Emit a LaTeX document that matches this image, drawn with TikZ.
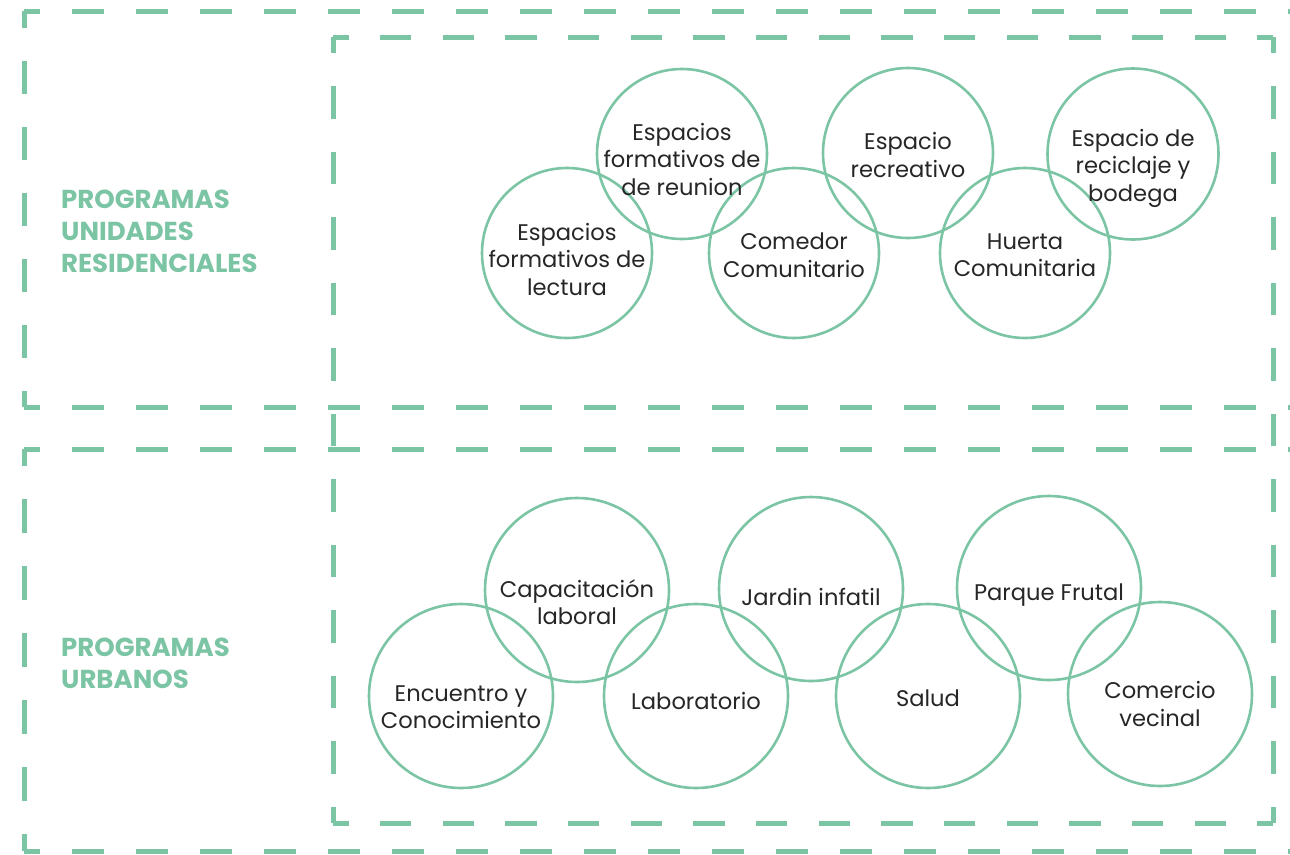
\documentclass[tikz,border=0pt]{standalone}
\usepackage{fontspec}
\setmainfont{Poppins}
\definecolor{gr}{HTML}{7BC4A4}
\definecolor{tx}{HTML}{262626}
\tikzset{
  frame/.style={draw=gr, line width=5pt, line cap=butt},
  ring/.style={circle, draw=gr, line width=2.6pt, inner sep=0pt},
  lbl/.style={text=tx, align=center, font=\fontsize{22.6}{27.5}\selectfont, inner sep=0pt},
  head/.style={text=gr, align=left, anchor=west, font=\fontsize{26}{32}\selectfont\bfseries, inner sep=0pt},
}
\begin{document}
\begin{tikzpicture}[x=1pt,y=-1pt]
\useasboundingbox (0,0) rectangle (1290,854);
\begin{scope}
\clip (0,0) rectangle (1290,854);
% outer top frame
\coordinate (ot1) at (24,11);
\coordinate (ot2) at (24,407);
\coordinate (otm) at (24,209);
\draw[frame, dash pattern=on 32 off 32, dash phase=16] (ot1) -- (1340,11);
\draw[frame, dash pattern=on 32 off 32, dash phase=16] (ot2) -- (1340,407);
\draw[frame, dash pattern=on 33 off 33, dash phase=16.5] (ot1) -- (otm);
\draw[frame, dash pattern=on 33 off 33, dash phase=16.5] (ot2) -- (otm);
% outer bottom frame
\coordinate (ob1) at (24,449);
\coordinate (ob2) at (24,851);
\coordinate (obm) at (24,650);
\draw[frame, dash pattern=on 32 off 32, dash phase=16] (ob1) -- (1340,449);
\draw[frame, dash pattern=on 32 off 32, dash phase=16] (ob2) -- (1340,851);
\draw[frame, dash pattern=on 33.5 off 33.5, dash phase=16.75] (ob1) -- (obm);
\draw[frame, dash pattern=on 33.5 off 33.5, dash phase=16.75] (ob2) -- (obm);
% inner frame
\coordinate (i1) at (333,37);
\coordinate (i2) at (1273,37);
\coordinate (i3) at (1273,823);
\coordinate (i4) at (333,823);
\coordinate (itm) at (803,37);
\coordinate (ibm) at (803,823);
\coordinate (ilm) at (333,430);
\coordinate (irm) at (1273,430);
\tikzset{hd/.style={frame, dash pattern=on 31.33 off 31.33, dash phase=15.67},
         vd/.style={frame, dash pattern=on 32.75 off 32.75, dash phase=16.375}}
\draw[hd] (i1) -- (itm); \draw[hd] (i2) -- (itm);
\draw[hd] (i4) -- (ibm); \draw[hd] (i3) -- (ibm);
\draw[vd] (i1) -- (ilm); \draw[vd] (i4) -- (ilm);
\draw[vd] (i2) -- (irm); \draw[vd] (i3) -- (irm);
\end{scope}

% headings
\node[head] (h1) at (61,231) {PROGRAMAS\\UNIDADES\\RESIDENCIALES};
\node[head] (h2) at (61,663) {PROGRAMAS\\URBANOS};

% top circles
\node[ring, minimum size=170pt] (a1) at (567,253) {};
\node[ring, minimum size=170pt] (a2) at (682,154) {};
\node[ring, minimum size=170pt] (a3) at (794,253) {};
\node[ring, minimum size=170pt] (a4) at (908,153) {};
\node[ring, minimum size=170pt] (a5) at (1025,253) {};
\node[ring, minimum size=171pt] (a6) at (1133,154) {};
\node[lbl] (la1) at (567,259) {Espacios\\formativos de\\lectura};
\node[lbl] (la2) at (682,159) {Espacios\\formativos de\\de reunion};
\node[lbl] (la3) at (794,255) {Comedor\\Comunitario};
\node[lbl] (la4) at (908,155) {Espacio\\recreativo};
\node[lbl] (la5) at (1025,255) {Huerta\\Comunitaria};
\node[lbl] (la6) at (1133,168) {Espacio de\\reciclaje y\\bodega};

% bottom circles
\node[ring, minimum size=184pt] (b1) at (461,696) {};
\node[ring, minimum size=184pt] (b2) at (577,590) {};
\node[ring, minimum size=184pt] (b3) at (696,696) {};
\node[ring, minimum size=184pt] (b4) at (811,589) {};
\node[ring, minimum size=184pt] (b5) at (928,696) {};
\node[ring, minimum size=184pt] (b6) at (1049,588) {};
\node[ring, minimum size=184pt] (b7) at (1160,694) {};
\node[lbl] (lb1) at (461,707) {Encuentro y\\Conocimiento};
\node[lbl] (lb2) at (577,602) {Capacitación\\laboral};
\node[lbl] (lb3) at (696,701) {Laboratorio};
\node[lbl] (lb4) at (811,597) {Jardin infatil};
\node[lbl] (lb5) at (928,698) {Salud};
\node[lbl] (lb6) at (1049,595) {Parque Frutal};
\node[lbl] (lb7) at (1160,704) {Comercio\\vecinal};
\end{tikzpicture}
\end{document}
